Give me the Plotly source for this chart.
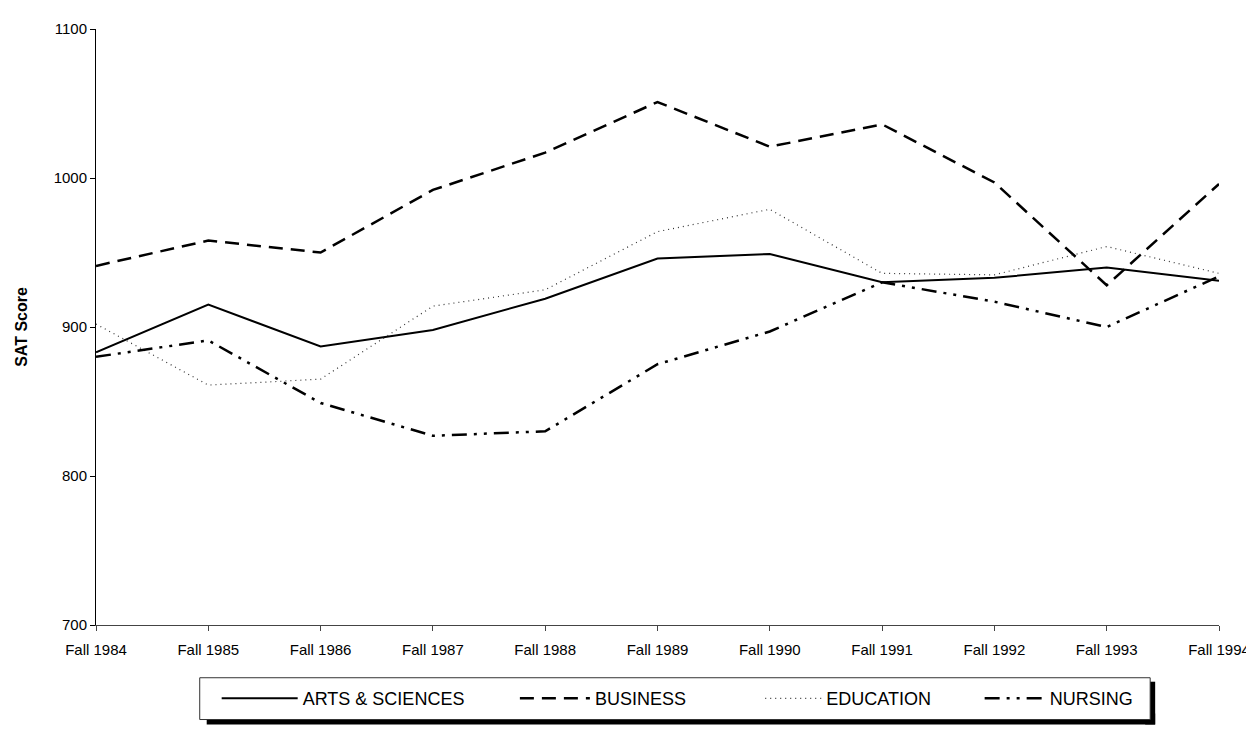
import plotly.graph_objects as go

categories = ["Fall 1984", "Fall 1985", "Fall 1986", "Fall 1987", "Fall 1988", "Fall 1989",
              "Fall 1990", "Fall 1991", "Fall 1992", "Fall 1993", "Fall 1994"]
arts_sciences = [883, 915, 887, 898, 919, 946, 949, 930, 933, 940, 931]
business = [941, 958, 950, 992, 1017, 1051, 1021, 1036, 997, 928, 996]
education = [902, 861, 865, 914, 925, 964, 979, 936, 935, 954, 936]
nursing = [880, 891, 849, 827, 830, 875, 897, 930, 917, 900, 934]
y_ticks = [700, 800, 900, 1000, 1100]

W, H = 1254, 730
L, R, T, B = 86, 42, 18, 113
PW, PH = W - L - R, H - T - B
FONT = "Liberation Sans, Arial, sans-serif"


def px(x):
    return (x - L) / PW


def py(y):
    return (H - B - y) / PH


fig = go.Figure()
series = [
    ("ARTS & SCIENCES", arts_sciences, dict(color="black", width=2, dash="solid"), "legend", px(207), 76),
    ("BUSINESS", business, dict(color="black", width=2.5, dash="14px,8px"), "legend2", px(506), 70),
    ("EDUCATION", education, dict(color="#333333", width=1.2, dash="1px,4px"), "legend3", px(752), 56),
    ("NURSING", nursing, dict(color="black", width=2.5, dash="15px,7px,3px,7px,3px,7px"), "legend4", px(972), 60),
]
legend_layout = {}
for name, vals, line, lg, lx, iw in series:
    fig.add_trace(go.Scatter(x=categories, y=vals, mode="lines", name=name, line=line,
                             legend=lg, showlegend=True))
    legend_layout[lg] = dict(
        x=lx, y=py(691), xanchor="left", yanchor="middle", orientation="h",
        bgcolor="rgba(0,0,0,0)", borderwidth=0, itemwidth=iw,
        font=dict(family=FONT, size=18, color="black"), traceorder="normal",
    )

shapes = [
    # legend shadow
    dict(type="rect", xref="paper", yref="paper", x0=px(197), x1=px(1148), y0=py(717), y1=py(706),
         fillcolor="black", line=dict(width=0), layer="below"),
    dict(type="rect", xref="paper", yref="paper", x0=px(1138), x1=px(1148), y0=py(717), y1=py(674),
         fillcolor="black", line=dict(width=0), layer="below"),
    # legend box
    dict(type="rect", xref="paper", yref="paper", x0=px(190), x1=px(1143), y0=py(712), y1=py(670),
         fillcolor="white", line=dict(color="#333333", width=1), layer="below"),
]

fig.update_layout(
    width=W, height=H,
    margin=dict(l=L, r=R, t=T, b=B),
    paper_bgcolor="white", plot_bgcolor="white",
    font=dict(family=FONT, size=15, color="black"),
    shapes=shapes,
    **legend_layout,
)
fig.update_xaxes(
    type="category", range=[0, len(categories) - 1],
    showgrid=False, zeroline=False,
    showline=True, linecolor="#444444", linewidth=1,
    ticks="outside", ticklen=5, tickcolor="#444444",
    ticklabelstandoff=6,
    tickfont=dict(family=FONT, size=15, color="black"),
)
fig.update_yaxes(
    range=[700, 1100], tickvals=y_ticks,
    showgrid=False, zeroline=False,
    showline=True, linecolor="black", linewidth=1,
    ticks="outside", ticklen=5, tickcolor="black",
    tickfont=dict(family=FONT, size=15, color="black"),
    title=dict(text="<b>SAT Score</b>", font=dict(family=FONT, size=16, color="black"), standoff=22),
)

fig.write_html("out.html")
